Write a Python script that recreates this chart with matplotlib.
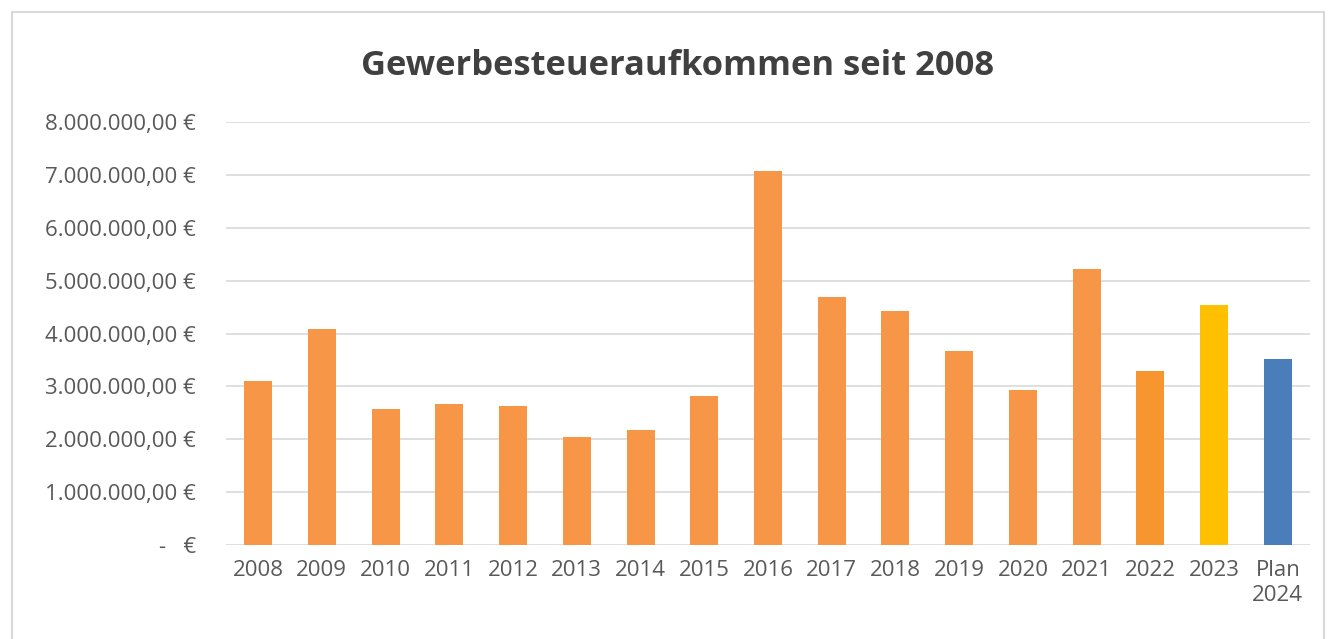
import matplotlib.pyplot as plt
from matplotlib.patches import Rectangle

# Gewerbesteuer data (EUR)
years = ["2008", "2009", "2010", "2011", "2012", "2013", "2014", "2015", "2016",
         "2017", "2018", "2019", "2020", "2021", "2022", "2023", "Plan\n2024"]
values = [3100000, 4080000, 2570000, 2660000, 2630000, 2040000, 2170000, 2820000,
          7070000, 4690000, 4420000, 3670000, 2930000, 5220000, 3290000, 4540000,
          3520000]
colors = ["#F79646"] * 14 + ["#F7962F", "#FFC000", "#4A7EBB"]
yticks = [0, 1000000, 2000000, 3000000, 4000000, 5000000, 6000000, 7000000, 8000000]


def euro(v):
    if v == 0:
        return "-   €"
    return f"{v:,.2f}".replace(",", "X").replace(".", ",").replace("X", ".") + " €"


plt.rcParams['font.family'] = ['Open Sans', 'DejaVu Sans']

fig = plt.figure(figsize=(13.31, 6.39), dpi=100)
fig.patches.append(Rectangle((12 / 1331, -0.01), 1312 / 1331, 1 - 12 / 639 + 0.01,
                             transform=fig.transFigure, fill=False,
                             edgecolor="#D9D9D9", linewidth=1.5))

ax = fig.add_axes([0.170, 0.147, 0.814, 0.662])
x = range(len(years))
ax.bar(x, values, width=0.44, color=colors, zorder=3)

ax.set_ylim(0, 8000000)
ax.set_xlim(-0.5, len(years) - 0.5)
ax.set_yticks(yticks)
ax.set_yticklabels([euro(v) for v in yticks])
ax.set_xticks(list(x))
ax.set_xticklabels(years)
ax.grid(axis="y", color="#D9D9D9", linewidth=1.2, zorder=0)
for s in ax.spines.values():
    s.set_visible(False)
ax.tick_params(axis="both", length=0, labelsize=16, labelcolor="#595959")
ax.tick_params(axis="y", pad=22)
ax.tick_params(axis="x", pad=11)

fig.text(0.509, 0.897, "Gewerbesteueraufkommen seit 2008", ha="center", va="center",
         fontsize=24.8, fontweight="bold", color="#404040")

fig.savefig("out.png", dpi=100)
